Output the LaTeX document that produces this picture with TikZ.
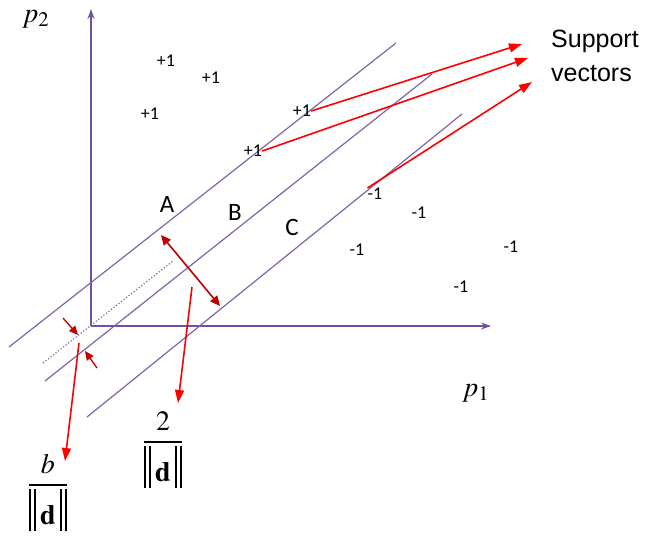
\RequirePackage{fix-cm}
\documentclass[tikz,border=0pt]{standalone}
\usepackage{amsmath,amssymb}
\usepackage{mathptmx}
\usepackage{fontspec}
\newfontfamily\labelfont{Carlito}
\newfontfamily\notefont{Liberation Sans}
\usetikzlibrary{arrows.meta,positioning}
\definecolor{planepurple}{RGB}{128,100,170}
\definecolor{axispurple}{RGB}{112,80,165}
\definecolor{darkred}{RGB}{192,0,0}
\newcommand{\normbar}{\rule[-6pt]{1.6pt}{42pt}\hspace{3.4pt}\rule[-6pt]{1.6pt}{42pt}}
\newcommand{\normd}{\normbar\hspace{4.5pt}\mathbf{d}\hspace{4.5pt}\normbar}

\begin{document}
\begin{tikzpicture}[
    x=1pt, y=-1pt,
    axis/.style={draw=axispurple, line width=1.3pt, -{Stealth[length=10pt,width=7pt]}},
    plane/.style={draw=planepurple, line width=1.2pt},
    origline/.style={draw=planepurple, line width=1.2pt, dotted},
    pointer/.style={draw=red, line width=1.6pt, -{Triangle[length=13pt,width=9pt]}},
    gap/.style={draw=darkred, line width=1.6pt,
                {Triangle[length=10pt,width=9pt]}-{Triangle[length=10pt,width=9pt]}},
    gapmark/.style={draw=darkred, line width=1.3pt, -{Triangle[length=9pt,width=8pt]}},
    cls/.style={font=\labelfont\fontsize{18}{20}\selectfont, inner sep=0pt},
    region/.style={font=\labelfont\fontsize{25}{28}\selectfont, inner sep=0pt},
    maths/.style={font=\fontsize{28}{32}\selectfont, inner sep=0pt},
  ]
    \useasboundingbox (0,0) rectangle (649,538);

    % --- axes ---
    \coordinate (o) at (91,326);
    \coordinate (ytop) at (91,9);
    \coordinate (xend) at (491,326);
    \draw[axis] (o) -- (ytop);
    \draw[axis] (o) -- (xend);
    \node[maths, anchor=base west] (p2) at (22,22) {$p_2$};
    \node[maths, anchor=base west] (p1) at (462,396) {$p_1$};

    % --- separating planes A, B, C and the plane through the origin ---
    \coordinate (a0) at (9,347);   \coordinate (a1) at (396,43);
    \coordinate (b0) at (45,381);  \coordinate (b1) at (432,74);
    \coordinate (c0) at (87,417);  \coordinate (c1) at (462,114);
    \coordinate (d0) at (43,363);  \coordinate (d1) at (173,261);
    \draw[plane] (a0) -- (a1);
    \draw[plane] (b0) -- (b1);
    \draw[plane] (c0) -- (c1);
    \draw[origline] (d0) -- (d1);
    \node[region] (A) at (167,204) {A};
    \node[region] (B) at (235,212) {B};
    \node[region] (C) at (292,227) {C};

    % --- class labels ---
    \node[cls] (p1a) at (166,61) {+1};
    \node[cls] (p1b) at (211,78) {+1};
    \node[cls] (p1c) at (150,114) {+1};
    \node[cls] (p1d) at (302,111) {+1};
    \node[cls] (p1e) at (253,151) {+1};
    \node[cls] (n1a) at (375,194) {-1};
    \node[cls] (n1b) at (419,213) {-1};
    \node[cls] (n1c) at (357,250) {-1};
    \node[cls] (n1d) at (511,247) {-1};
    \node[cls] (n1e) at (461,287) {-1};

    % --- support vectors ---
    \node[anchor=north west, align=left, inner sep=0pt,
          font=\notefont\fontsize{25}{34}\selectfont] (sv) at (551,30)
      {Support\\vectors};
    \coordinate (sv1) at (522,44);
    \coordinate (sv2) at (528,58);
    \coordinate (sv3) at (532,82);
    \draw[pointer] (p1d.east) -- (sv1);
    \draw[pointer] (p1e.east) -- (sv2);
    \draw[pointer] (n1a.north west) -- (sv3);

    % --- margin 2/||d|| ---
    \coordinate (mA) at (161,235);
    \coordinate (mC) at (220,306);
    \draw[gap] (mA) -- (mC);
    \node[maths, anchor=base] (twod) at (163,449) {$\dfrac{2}{\normd}$};
    \coordinate (tw0) at (192,287);
    \coordinate (tw1) at (178,403);
    \draw[pointer] (tw0) -- (tw1);

    % --- offset b/||d|| ---
    \coordinate (bm0) at (63,318);  \coordinate (bt0) at (78,335);
    \coordinate (bm1) at (97,368);  \coordinate (bt1) at (85,351);
    \draw[gapmark] (bm0) -- (bt0);
    \draw[gapmark] (bm1) -- (bt1);
    \node[maths, anchor=base] (bd) at (48,492) {$\dfrac{b}{\normd}$};
    \coordinate (bo0) at (79,343);
    \coordinate (bo1) at (65,461);
    \draw[pointer] (bo0) -- (bo1);
  \end{tikzpicture}
\end{document}
